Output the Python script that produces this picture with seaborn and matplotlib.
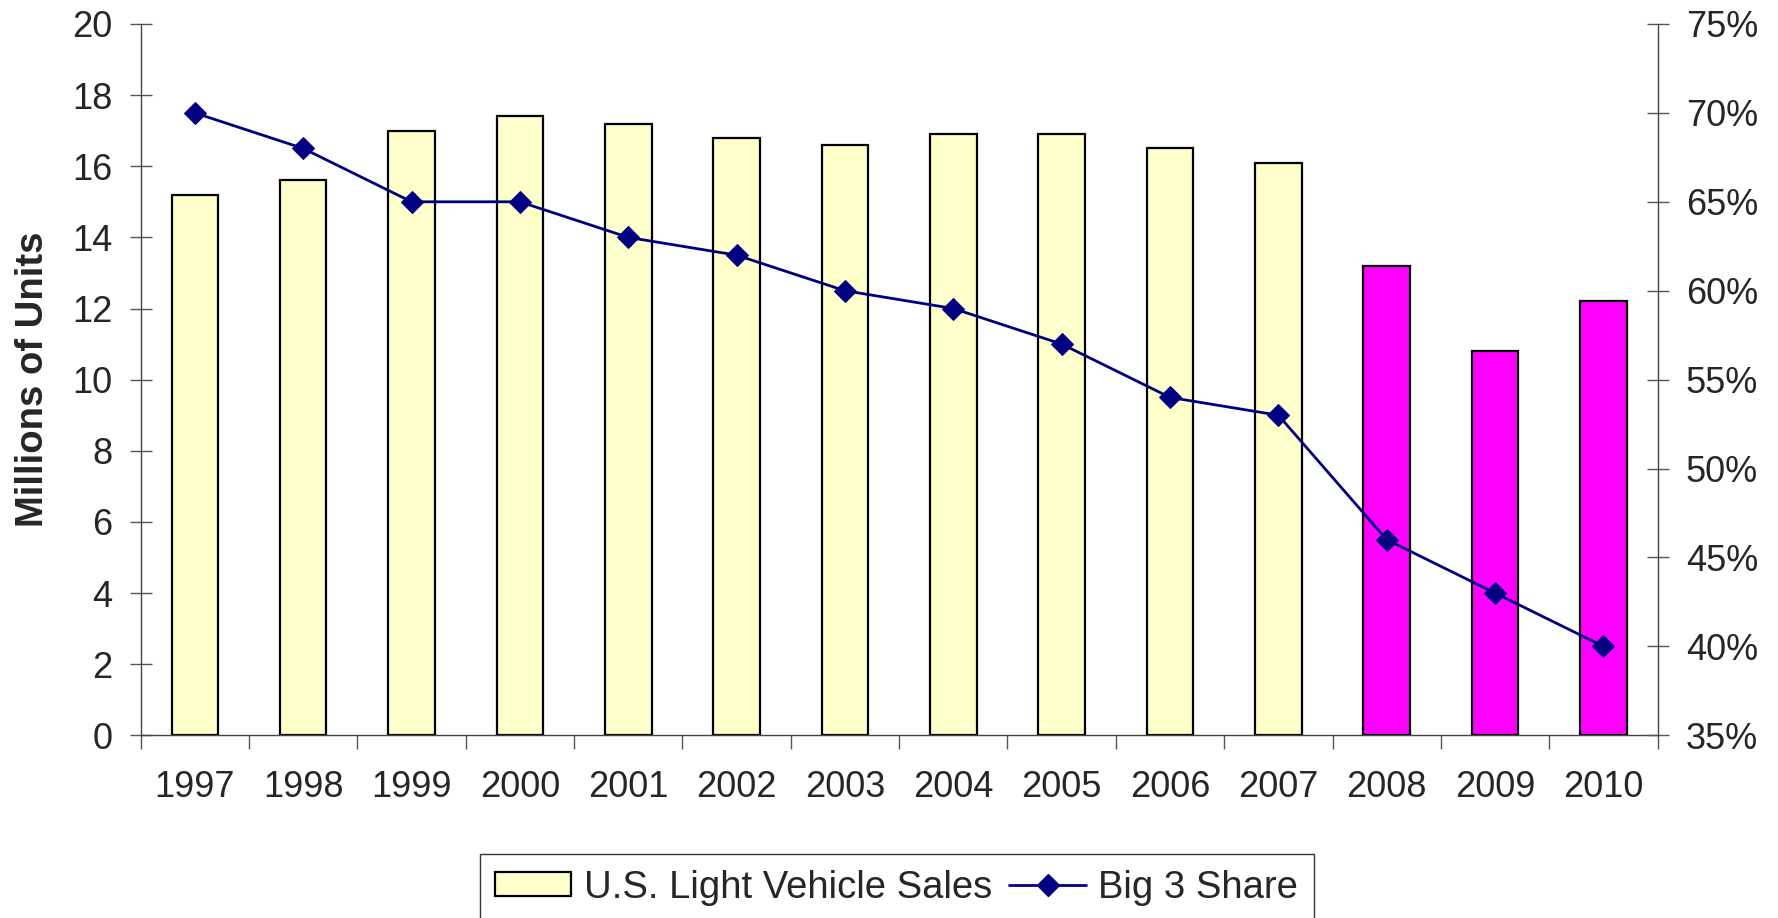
import numpy as np
import pandas as pd
import matplotlib
matplotlib.use("Agg")
import matplotlib.pyplot as plt
from matplotlib.patches import Patch
from matplotlib.lines import Line2D
from matplotlib.ticker import PercentFormatter, MultipleLocator
import seaborn as sns

# Data
years = ["1997", "1998", "1999", "2000", "2001", "2002", "2003",
         "2004", "2005", "2006", "2007", "2008", "2009", "2010"]
sales = [15.2, 15.6, 17.0, 17.4, 17.2, 16.8, 16.6,
         16.9, 16.9, 16.5, 16.1, 13.2, 10.8, 12.2]
big3_share = [0.70, 0.68, 0.65, 0.65, 0.63, 0.62, 0.60,
              0.59, 0.57, 0.54, 0.53, 0.46, 0.43, 0.40]
bar_colors = ["#FFFFCC"] * 11 + ["#FF00FF"] * 3

sns.set_style("ticks")
plt.rcParams["font.family"] = ["Liberation Sans", "DejaVu Sans"]
plt.rcParams["font.size"] = 26

df = pd.DataFrame({"year": years, "sales": sales, "share": big3_share})

fig = plt.figure(figsize=(17.78, 9.18), dpi=100)
fig.subplots_adjust(left=0.0791, right=0.9323, top=0.9739, bottom=0.199)
ax = fig.add_subplot(111)

# Bars
sns.barplot(data=df, x="year", y="sales", hue="year", palette=bar_colors,
            legend=False, width=0.43, edgecolor="black", linewidth=1.6,
            saturation=1, ax=ax)
ax.set_xlim(-0.5, len(years) - 0.5)
ax.set_ylim(0, 20)
ax.yaxis.set_major_locator(MultipleLocator(2))
ax.set_xlabel("")
ax.set_ylabel("Millions of Units", fontweight="bold", fontsize=27.5)
ax.yaxis.set_label_coords(-0.059, 0.5)

# x ticks: labels at centres, tick marks between categories
ax.set_xticks(np.arange(-0.5, len(years), 1), minor=True)
ax.tick_params(axis="x", which="major", length=0, pad=25, labelsize=26)
ax.tick_params(axis="x", which="minor", length=10, direction="out",
               width=1, color="#555555")
ax.tick_params(axis="y", direction="inout", length=16.5, width=1,
               color="#555555", pad=12, labelsize=26)

# Line on secondary axis
ax2 = ax.twinx()
sns.lineplot(x=np.arange(len(years)), y=df["share"], ax=ax2, color="#000080",
             linewidth=2.0, marker="D", markersize=11,
             markeredgecolor="#000080", legend=False)
ax2.set_ylim(0.35, 0.75)
ax2.yaxis.set_major_locator(MultipleLocator(0.05))
ax2.yaxis.set_major_formatter(PercentFormatter(1.0, decimals=0))
ax2.set_ylabel("")
ax2.tick_params(axis="y", direction="inout", length=16.5, width=1,
                color="#555555", pad=12, labelsize=26)

for a in (ax, ax2):
    a.spines["top"].set_visible(False)
    for s in ("left", "right", "bottom"):
        a.spines[s].set_color("#444444")
        a.spines[s].set_linewidth(1)
ax.spines["right"].set_visible(False)
ax2.spines["left"].set_visible(False)
ax2.spines["bottom"].set_visible(False)

# Legend
handles = [
    Patch(facecolor="#FFFFCC", edgecolor="black", linewidth=1.6),
    Line2D([0], [0], color="#000080", linewidth=2.0, marker="D",
           markersize=11),
]
leg = fig.legend(handles, ["U.S. Light Vehicle Sales", "Big 3 Share"],
                 loc="upper center", bbox_to_anchor=(0.5043, 0.0694), ncol=2,
                 frameon=True, fancybox=False, fontsize=27.5, handlelength=2.0,
                 handleheight=0.6, handletextpad=0.33, columnspacing=0.45,
                 borderpad=0.4, borderaxespad=0)
leg.get_frame().set_edgecolor("black")
leg.get_frame().set_linewidth(1)

fig.savefig("out.png", dpi=100)
